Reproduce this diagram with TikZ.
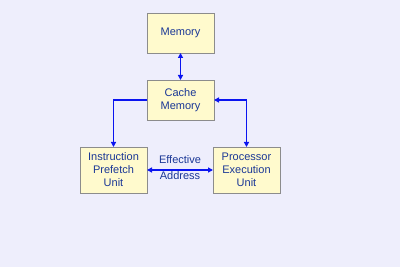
\documentclass[tikz,border=0pt]{standalone}
\usepackage{fontspec}
\setmainfont{Liberation Sans}
\usetikzlibrary{arrows.meta}
\definecolor{bgcol}{HTML}{EEEEFC}
\definecolor{boxfill}{HTML}{FFFACD}
\definecolor{boxline}{HTML}{8C8C8C}
\definecolor{txtcol}{HTML}{1A3796}
\definecolor{arrcol}{HTML}{0A14F0}
\begin{document}
\begin{tikzpicture}[x=1pt, y=-1pt,
  every node/.style={font=\fontsize{11pt}{13pt}\selectfont, text=txtcol},
  unit/.style={draw=boxline, fill=boxfill, line width=0.8pt, minimum width=67pt,
    inner sep=0pt, outer sep=0pt, align=center},
  link/.style={draw=arrcol, line width=1.8pt, -{Triangle[length=5pt,width=5pt]}},
  both/.style={link, {Triangle[length=5pt,width=5pt]}-{Triangle[length=5pt,width=5pt]}}]
  \fill[bgcol] (0,0) rectangle (400,267);
  \useasboundingbox (0,0) rectangle (400,267);
  \node[unit, minimum height=40pt] (mem) at (180.5,33) {Memory};
  \node[unit, minimum height=40pt] (cache) at (180.5,100) {Cache\\Memory};
  \node[unit, minimum height=46pt] (ipu) at (113.5,170) {Instruction\\Prefetch\\Unit};
  \node[unit, minimum height=46pt] (peu) at (246.5,170) {Processor\\Execution\\Unit};
  \draw[both] (mem) -- (cache);
  \draw[link] (cache.west) -| (ipu.north);
  \draw[both] (cache.east) -| (peu.north);
  \draw[both] (ipu) -- (peu)
    node[midway, align=center, yshift=2pt] (ea) {Effective\\[3pt]Address};
\end{tikzpicture}
\end{document}
